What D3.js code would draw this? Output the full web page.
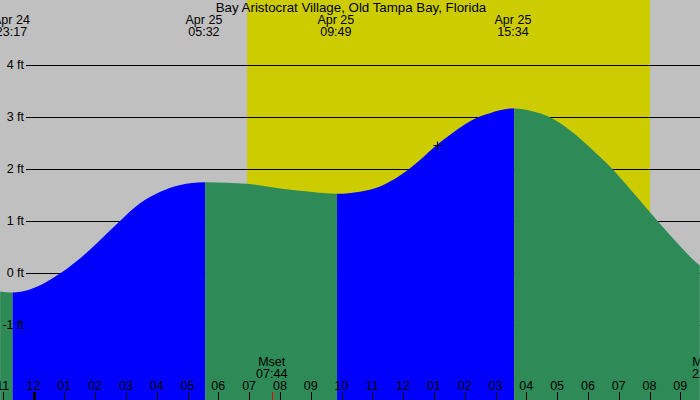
<!DOCTYPE html>
<html><head><meta charset="utf-8">
<script src="https://cdn.jsdelivr.net/npm/d3@7"></script>
<style>
body{margin:0;background:#fff}
svg{display:block}
text{font-family:"Liberation Sans",Arial,sans-serif;font-size:12.5px;fill:#000}
text.title{font-size:13.3px}
</style>
</head><body>
<svg id="c" width="700" height="400"></svg>
<script>
const title = "Bay Aristocrat Village, Old Tampa Bay, Florida";
const tideTimes = ["2024-04-24T22:55","2024-04-24T23:17","2024-04-24T23:53","2024-04-25T00:52","2024-04-25T01:31",
  "2024-04-25T02:10","2024-04-25T02:49","2024-04-25T03:28","2024-04-25T04:07","2024-04-25T04:46","2024-04-25T05:32",
  "2024-04-25T06:56","2024-04-25T08:00","2024-04-25T08:59","2024-04-25T09:49","2024-04-25T10:36","2024-04-25T11:15",
  "2024-04-25T11:54","2024-04-25T12:33","2024-04-25T13:06","2024-04-25T13:31","2024-04-25T14:00","2024-04-25T14:26",
  "2024-04-25T14:49","2024-04-25T15:34","2024-04-25T16:10","2024-04-25T16:46","2024-04-25T17:25","2024-04-25T18:05",
  "2024-04-25T18:49","2024-04-25T19:22","2024-04-25T19:50","2024-04-25T20:17","2024-04-25T20:59","2024-04-25T21:20",
  "2024-04-25T21:38"];
const tideHeights = [-0.35,-0.37,-0.31,0.0,0.29,0.64,1.01,1.35,1.57,1.70,1.75,1.72,1.63,1.57,1.53,1.57,1.67,1.88,2.18,2.47,
  2.66,2.86,3.0,3.08,3.17,3.12,3.0,2.75,2.41,1.99,1.62,1.30,0.99,0.53,0.31,0.15];
const extremeTimes = ["2024-04-24T23:17","2024-04-25T05:32","2024-04-25T09:49","2024-04-25T15:34"];
const extremeTypes = ["low","high","low","high"];
const sunTimes = ["2024-04-25T06:56","2024-04-25T20:01"];
const moonEvents = ["Mset","Mrise"];
const moonTimes = ["2024-04-25T07:44","2024-04-25T21:53"];
const yTicks = [-1,0,1,2,3,4];
const nowTime = "2024-04-25T13:06";
const nowHeight = 2.47;
const timeDomain = ["2024-04-24T22:54:44","2024-04-25T21:38:21"];

const W = 700, H = 400;
const pT = d3.timeParse("%Y-%m-%dT%H:%M");
const pS = d3.timeParse("%Y-%m-%dT%H:%M:%S");
const x = d3.scaleTime().domain(timeDomain.map(pS)).range([0, W]);
const y = d3.scaleLinear().domain([0, 4]).range([273.3, 65.3]);
const svg = d3.select("#c");

const colors = {bg:"#c0c0c0", day:"#cccc00", rise:"#0000ff", fall:"#2e8b57"};

svg.append("rect").attr("width", W).attr("height", H).attr("fill", colors.bg);
svg.append("rect").attr("x", x(pT(sunTimes[0]))).attr("y", 0)
  .attr("width", x(pT(sunTimes[1])) - x(pT(sunTimes[0]))).attr("height", H).attr("fill", colors.day);

// grid lines
svg.append("g").selectAll("line").data(yTicks).join("line")
  .attr("x1", 26).attr("x2", W).attr("y1", d => Math.round(y(d)) + 0.5).attr("y2", d => Math.round(y(d)) + 0.5)
  .attr("stroke", "#000").attr("stroke-width", 1);

// tide area
const tide = tideTimes.map((t, i) => ({t: pT(t), v: tideHeights[i]}));
const area = d3.area().x(d => x(d.t)).y0(H).y1(d => y(d.v)).curve(d3.curveMonotoneX);
const bounds = [x.domain()[0], ...extremeTimes.map(pT), x.domain()[1]];
const defs = svg.append("defs");
for (let i = 0; i < bounds.length - 1; i++) {
  const id = "seg" + i;
  const x0 = i === 0 ? 0 : x(bounds[i]) + 1.2;
  defs.append("clipPath").attr("id", id).append("rect")
    .attr("x", x0).attr("y", 0).attr("width", x(bounds[i + 1]) + 1.2 - x0).attr("height", H);
  const endType = i < extremeTypes.length ? extremeTypes[i] : "low";
  svg.append("path").datum(tide).attr("d", area).attr("clip-path", `url(#${id})`)
    .attr("fill", endType === "high" ? colors.rise : colors.fall);
}

// y labels
svg.append("g").selectAll("text").data(yTicks).join("text")
  .attr("x", 24).attr("y", d => y(d) + 4).attr("text-anchor", "end").text(d => d + " ft");

// title
svg.append("text").attr("class", "title").attr("x", 351).attr("y", 12).attr("text-anchor", "middle").text(title);

// extreme labels
const fDay = d3.timeFormat("%b %d"), fHM = d3.timeFormat("%H:%M");
const ex = svg.append("g").selectAll("g").data(extremeTimes.map(pT)).join("g");
ex.append("text").attr("x", d => x(d)).attr("y", 24).attr("text-anchor", "middle").text(d => fDay(d));
ex.append("text").attr("x", d => x(d)).attr("y", 36).attr("text-anchor", "middle").text(d => fHM(d));

// hour ticks
const hours = x.ticks(d3.timeHour.every(1));
const fH = d3.timeFormat("%I");
const ht = svg.append("g").selectAll("g").data(hours).join("g");
ht.append("line").attr("x1", d => Math.round(x(d)) + 0.5).attr("x2", d => Math.round(x(d)) + 0.5)
  .attr("y1", 392).attr("y2", H).attr("stroke", "#000")
  .attr("stroke-width", d => d.getHours() === 0 ? 3 : 1);
ht.append("text").attr("x", d => x(d)).attr("y", 389.5).attr("text-anchor", "middle").text(d => fH(d));

// moon events
const mo = svg.append("g").selectAll("g").data(moonTimes.map((t, i) => ({t: pT(t), n: moonEvents[i]}))).join("g");
mo.append("text").attr("x", d => x(d.t)).attr("y", 365.5).attr("text-anchor", "middle").text(d => d.n);
mo.append("text").attr("x", d => x(d.t)).attr("y", 377.5).attr("text-anchor", "middle").text(d => fHM(d.t));
mo.append("line").attr("x1", d => Math.round(x(d.t)) + 0.5).attr("x2", d => Math.round(x(d.t)) + 0.5)
  .attr("y1", 392).attr("y2", H).attr("stroke", "#ff0000");

// now marker
const nx = Math.round(x(pT(nowTime))) + 0.5, ny = Math.round(y(nowHeight)) + 0.5;
svg.append("path").attr("d", `M${nx - 4},${ny}H${nx + 4}M${nx},${ny - 4}V${ny + 4}`)
  .attr("stroke", "#000").attr("stroke-width", 1);
</script>
</body></html>
